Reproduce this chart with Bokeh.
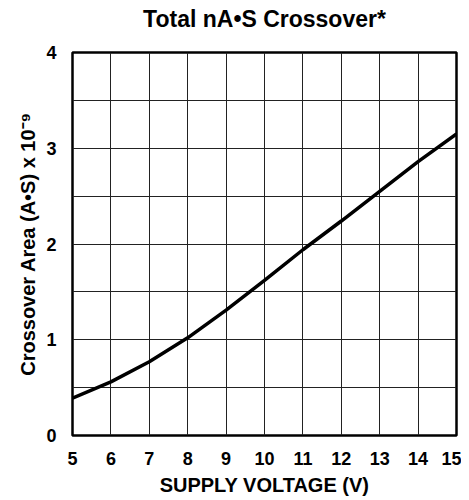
from bokeh.plotting import figure
from bokeh.models import FixedTicker, Range1d, Title, LinearAxis
from bokeh.embed import file_html
from bokeh.resources import INLINE

voltage = [5, 6, 7, 8, 9, 10, 11, 12, 13, 14, 15]
crossover = [0.39, 0.56, 0.77, 1.02, 1.31, 1.62, 1.94, 2.24, 2.55, 2.86, 3.15]
x_ticks = [5, 6, 7, 8, 9, 10, 11, 12, 13, 14, 15]
y_ticks = [0, 1, 2, 3, 4]
y_grid = [0, 0.5, 1, 1.5, 2, 2.5, 3, 3.5, 4]
title_text = "Total nA\u2022S Crossover*"

FONT = "Liberation Sans"

p = figure(width=461, height=498, output_backend="svg", toolbar_location=None,
           x_range=Range1d(5, 15), y_range=Range1d(0, 4), title=None,
           min_border_left=72, min_border_right=5, min_border_top=52, min_border_bottom=56)

# invisible spacer between the frame and the title
spacer = LinearAxis(ticker=FixedTicker(ticks=[]), axis_line_color=None,
                    major_tick_line_color=None, minor_tick_line_color=None,
                    major_tick_in=0, major_tick_out=21, minor_tick_out=0,
                    major_label_text_color=None)
title = Title(text=title_text, text_font=FONT, text_font_size="23px",
              text_font_style="bold", align="center", vertical_align="bottom",
              standoff=0, text_color="black")
p.above = [spacer, title]

p.line(voltage, crossover, line_width=3.5, line_color="black")

p.xaxis.ticker = FixedTicker(ticks=x_ticks)
p.yaxis.ticker = FixedTicker(ticks=y_ticks)
p.xgrid.ticker = FixedTicker(ticks=x_ticks)
p.ygrid.ticker = FixedTicker(ticks=y_grid)
for g in (p.xgrid, p.ygrid):
    g.grid_line_color = "#222222"
    g.grid_line_width = 1
    g.grid_line_alpha = 1

for ax in (p.below[0], p.left[0]):
    ax.axis_line_color = None
    ax.major_tick_line_color = None
    ax.minor_tick_line_color = None
    ax.major_label_text_font = FONT
    ax.major_label_text_font_style = "bold"
    ax.major_label_text_font_size = "18px"
    ax.major_label_text_color = "black"
    ax.axis_label_text_font = FONT
    ax.axis_label_text_font_style = "bold"
    ax.axis_label_text_font_size = "20px"
    ax.axis_label_text_color = "black"

xa = p.below[0]
ya = p.left[0]
xa.axis_label = "SUPPLY VOLTAGE (V)"
ya.axis_label = "Crossover Area (A\u2022S) x 10\u207b\u2079"
xa.major_label_standoff = 10
ya.major_label_standoff = 10
xa.axis_label_standoff = 6
ya.axis_label_standoff = 4

p.outline_line_color = "black"
p.outline_line_width = 2.5
p.outline_line_alpha = 1
p.background_fill_color = "white"
p.border_fill_color = "white"

open("out.html", "w").write(file_html(p, INLINE))
